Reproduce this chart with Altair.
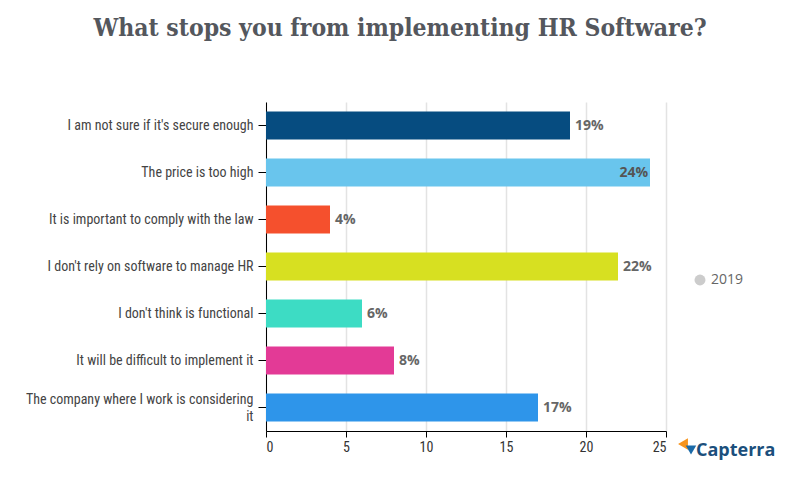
import altair as alt
import pandas as pd

categories = [
    "I am not sure if it's secure enough",
    "The price is too high",
    "It is important to comply with the law",
    "I don't rely on software to manage HR",
    "I don't think is functional",
    "It will be difficult to implement it",
    "The company where I work is considering|it",
]
values = [19, 24, 4, 22, 6, 8, 17]
colors = ["#064c80", "#69c5ed", "#f5502d", "#d7e021", "#3ddcc4", "#e33a96", "#2e95ea"]
series_name = "2019"
x_ticks = [0, 5, 10, 15, 20, 25]

df = pd.DataFrame({"category": categories, "value": values})
df["series"] = series_name
df["label"] = [f"{v}%" for v in values]

cond_font = "Roboto Condensed, Liberation Sans Narrow, DejaVu Sans Condensed, Roboto"

y_enc = alt.Y(
    "category:N",
    sort=categories,
    title=None,
    scale=alt.Scale(paddingInner=0.4, paddingOuter=0.2),
    axis=alt.Axis(
        labelExpr="split(datum.label, '|')",
        labelFont=cond_font,
        labelFontSize=14,
        labelColor="#444444",
        labelLimit=0,
        labelPadding=5,
        labelLineHeight=17,
        labelOffset={"condition": {"test": "indexof(datum.label, '|') >= 0", "value": -8}, "value": 0},
        tickSize=8,
        tickColor="#000000",
        domainColor="#000000",
        grid=False,
    ),
)
x_enc = alt.X(
    "value:Q",
    title=None,
    scale=alt.Scale(domain=[0, 25], nice=False),
    axis=alt.Axis(
        values=x_ticks,
        labelFont=cond_font,
        labelFontSize=14,
        labelColor="#333333",
        labelPadding=3,
        tickSize=6,
        tickColor="#000000",
        domainColor="#000000",
        gridColor="#e3e3e3",
        gridWidth=1.5,
    ),
)

base = alt.Chart(df)

bars = base.mark_bar().encode(
    x=x_enc,
    y=y_enc,
    color=alt.Color("category:N", scale=alt.Scale(domain=categories, range=colors), legend=None),
)

text_out = base.transform_filter("datum.value < 23").mark_text(
    align="left", baseline="middle", dx=5, font="Open Sans", fontWeight="bold",
    fontSize=14, color="#666666"
).encode(x="value:Q", y=alt.Y("category:N", sort=categories), text="label:N")

text_in = base.transform_filter("datum.value >= 23").mark_text(
    align="right", baseline="middle", dx=-2, font="Open Sans", fontWeight="bold",
    fontSize=14, color="#555555"
).encode(x="value:Q", y=alt.Y("category:N", sort=categories), text="label:N")

legend_layer = base.mark_point(filled=True, opacity=0, size=0).encode(
    x="value:Q",
    y=alt.Y("category:N", sort=categories),
    fill=alt.Fill(
        "series:N",
        scale=alt.Scale(range=["#cccccc"]),
        legend=alt.Legend(
            title=None,
            orient="none",
            legendX=427,
            legendY=171,
            symbolType="circle",
            symbolSize=120,
            symbolOpacity=1,
            labelFont="Open Sans",
            labelFontSize=14,
            labelColor="#666666",
        ),
    ),
)

logo_text = alt.Chart(pd.DataFrame({"t": ["Capterra"]})).mark_text(
    align="left", baseline="alphabetic", font="Open Sans", fontWeight="bold",
    fontSize=18, color="#1b4f7c"
).encode(x=alt.value(430), y=alt.value(354), text="t:N")

logo_icon1 = alt.Chart(pd.DataFrame({"t": ["a"]})).mark_point(
    shape="triangle-left", filled=True, color="#f7941d", size=130, opacity=1
).encode(x=alt.value(417), y=alt.value(342))
logo_icon2 = alt.Chart(pd.DataFrame({"t": ["b"]})).mark_point(
    shape="triangle-down", filled=True, color="#1b6aa8", size=110, opacity=1
).encode(x=alt.value(425), y=alt.value(348))

chart = alt.layer(bars, text_out, text_in, legend_layer, logo_icon1, logo_icon2, logo_text).properties(
    width=400,
    height=329,
    autosize=alt.AutoSizeParams(type="none"),
    padding={"left": 258, "top": 94, "right": 126, "bottom": 41},
    title=alt.Title(
        "What stops you from implementing HR Software?",
        font="Roboto Slab, DejaVu Serif Condensed, DejaVu Serif",
        fontSize=24.5,
        fontWeight="bold",
        color="#54575d",
        anchor="middle",
        frame="group",
        dx=-66,
        offset=61,
    ),
).configure_view(stroke=None)

chart.save("out.html", embed_options={"renderer": "svg", "actions": False})
